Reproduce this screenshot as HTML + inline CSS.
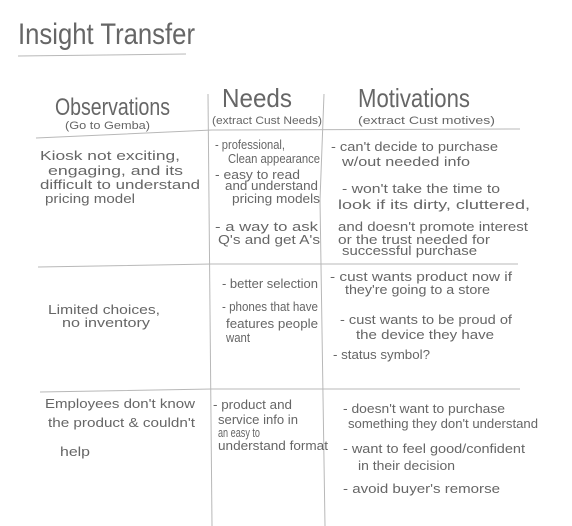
<!DOCTYPE html>
<html><head><meta charset="utf-8"><style>
html,body{margin:0;padding:0;background:#fff;}
svg{display:block;}
text{font-family:"Liberation Sans",sans-serif;fill:#666;}
.b{font-size:13px;}
</style></head><body>
<svg width="572" height="526" viewBox="0 0 572 526" xmlns="http://www.w3.org/2000/svg">
<rect width="572" height="526" fill="#fff"/>
<g stroke="#b8b8b8" stroke-width="1" fill="none">
<path d="M18 56 L186 54"/>
<path d="M36 138 L212 130 L520 129"/>
<path d="M38 267 L212 264 L518 264"/>
<path d="M40 392 L212 389 L520 389"/>
<path d="M208 94 L212 526"/>
<path d="M324 94 L320 200 L325 526"/>
</g>
<text x="18" y="44" font-size="30" textLength="177" lengthAdjust="spacingAndGlyphs">Insight Transfer</text>
<text x="55" y="115" font-size="24" textLength="115" lengthAdjust="spacingAndGlyphs">Observations</text>
<text x="65" y="129" font-size="11" textLength="85" lengthAdjust="spacingAndGlyphs">(Go to Gemba)</text>
<text x="222" y="107" font-size="26" textLength="70" lengthAdjust="spacingAndGlyphs">Needs</text>
<text x="212" y="124" font-size="11" textLength="110" lengthAdjust="spacingAndGlyphs">(extract Cust Needs)</text>
<text x="358" y="107" font-size="26" textLength="112" lengthAdjust="spacingAndGlyphs">Motivations</text>
<text x="358" y="124" font-size="11" textLength="137" lengthAdjust="spacingAndGlyphs">(extract Cust motives)</text>
<g class="b">
<text x="40" y="160" textLength="140" lengthAdjust="spacingAndGlyphs">Kiosk not exciting,</text>
<text x="48" y="175" textLength="135" lengthAdjust="spacingAndGlyphs">engaging, and its</text>
<text x="40" y="189" textLength="160" lengthAdjust="spacingAndGlyphs">difficult to understand</text>
<text x="45" y="203" textLength="90" lengthAdjust="spacingAndGlyphs">pricing model</text>
<text x="215" y="149" textLength="70" lengthAdjust="spacingAndGlyphs">- professional,</text>
<text x="228" y="163" textLength="92" lengthAdjust="spacingAndGlyphs">Clean appearance</text>
<text x="215" y="179" textLength="85" lengthAdjust="spacingAndGlyphs">- easy to read</text>
<text x="225" y="190" textLength="93" lengthAdjust="spacingAndGlyphs">and understand</text>
<text x="232" y="203" textLength="88" lengthAdjust="spacingAndGlyphs">pricing models</text>
<text x="215" y="231" textLength="103" lengthAdjust="spacingAndGlyphs">- a way to ask</text>
<text x="218" y="244" textLength="102" lengthAdjust="spacingAndGlyphs">Q's and get A's</text>
<text x="331" y="151" textLength="167" lengthAdjust="spacingAndGlyphs">- can't decide to purchase</text>
<text x="342" y="166" textLength="128" lengthAdjust="spacingAndGlyphs">w/out needed info</text>
<text x="342" y="193" textLength="158" lengthAdjust="spacingAndGlyphs">- won't take the time to</text>
<text x="338" y="209" textLength="192" lengthAdjust="spacingAndGlyphs">look if its dirty, cluttered,</text>
<text x="338" y="231" textLength="190" lengthAdjust="spacingAndGlyphs">and doesn't promote interest</text>
<text x="338" y="244" textLength="152" lengthAdjust="spacingAndGlyphs">or the trust needed for</text>
<text x="342" y="255" textLength="135" lengthAdjust="spacingAndGlyphs">successful purchase</text>
<text x="48" y="314" textLength="112" lengthAdjust="spacingAndGlyphs">Limited choices,</text>
<text x="62" y="327" textLength="88" lengthAdjust="spacingAndGlyphs">no inventory</text>
<text x="222" y="288" textLength="96" lengthAdjust="spacingAndGlyphs">- better selection</text>
<text x="222" y="311" textLength="96" lengthAdjust="spacingAndGlyphs">- phones that have</text>
<text x="226" y="328" textLength="92" lengthAdjust="spacingAndGlyphs">features people</text>
<text x="226" y="342" textLength="24" lengthAdjust="spacingAndGlyphs">want</text>
<text x="330" y="281" textLength="182" lengthAdjust="spacingAndGlyphs">- cust wants product now if</text>
<text x="345" y="294" textLength="145" lengthAdjust="spacingAndGlyphs">they're going to a store</text>
<text x="340" y="324" textLength="172" lengthAdjust="spacingAndGlyphs">- cust wants to be proud of</text>
<text x="356" y="339" textLength="138" lengthAdjust="spacingAndGlyphs">the device they have</text>
<text x="333" y="359" textLength="97" lengthAdjust="spacingAndGlyphs">- status symbol?</text>
<text x="45" y="408" textLength="150" lengthAdjust="spacingAndGlyphs">Employees don't know</text>
<text x="48" y="427" textLength="147" lengthAdjust="spacingAndGlyphs">the product &amp; couldn't</text>
<text x="60" y="456" textLength="30" lengthAdjust="spacingAndGlyphs">help</text>
<text x="213" y="409" textLength="79" lengthAdjust="spacingAndGlyphs">- product and</text>
<text x="218" y="424" textLength="80" lengthAdjust="spacingAndGlyphs">service info in</text>
<text x="218" y="437" textLength="42" lengthAdjust="spacingAndGlyphs">an easy to</text>
<text x="218" y="450" textLength="110" lengthAdjust="spacingAndGlyphs">understand format</text>
<text x="343" y="413" textLength="162" lengthAdjust="spacingAndGlyphs">- doesn't want to purchase</text>
<text x="348" y="428" textLength="190" lengthAdjust="spacingAndGlyphs">something they don't understand</text>
<text x="343" y="453" textLength="182" lengthAdjust="spacingAndGlyphs">- want to feel good/confident</text>
<text x="358" y="470" textLength="97" lengthAdjust="spacingAndGlyphs">in their decision</text>
<text x="343" y="493" textLength="157" lengthAdjust="spacingAndGlyphs">- avoid buyer's remorse</text>
</g>
</svg>
</body></html>
